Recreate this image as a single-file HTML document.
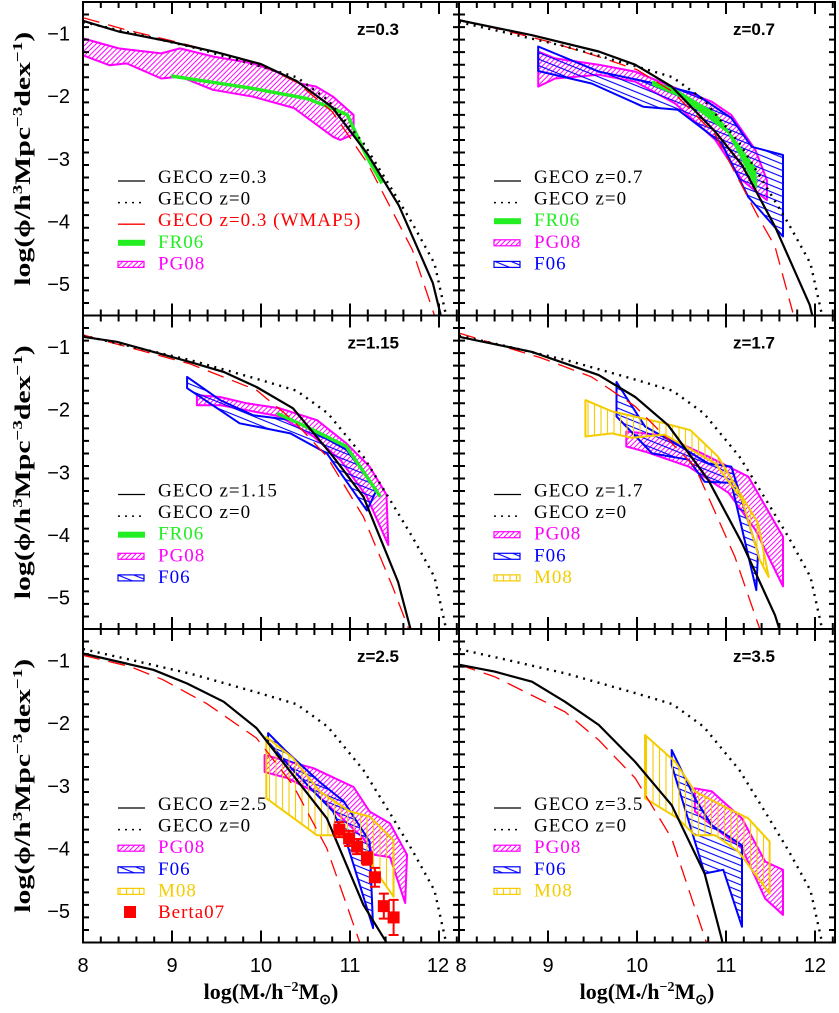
<!DOCTYPE html>
<html><head><meta charset="utf-8"><style>
html,body{margin:0;padding:0;background:#fff;}
svg{display:block;}
</style></head><body>
<svg id="chart" width="839" height="1013" viewBox="0 0 839 1013" xmlns="http://www.w3.org/2000/svg">
<defs>
<pattern id="hatch-pg08" patternUnits="userSpaceOnUse" width="3.6" height="3.6" patternTransform="rotate(-45)"><line x1="0" y1="1.8" x2="3.6" y2="1.8" stroke="#ff00ff" stroke-width="1"/></pattern>
<pattern id="hatch-f06" patternUnits="userSpaceOnUse" width="7" height="6" patternTransform="rotate(22)"><line x1="0" y1="3" x2="7" y2="3" stroke="#0000ff" stroke-width="1.1"/></pattern>
<pattern id="hatch-m08" patternUnits="userSpaceOnUse" width="6.5" height="6"><line x1="3" y1="0" x2="3" y2="6" stroke="#f5cc00" stroke-width="1.1"/></pattern>
</defs>
<g id="root"></g>
</svg>
<script>
// ---- shared data ----
const z0_curve = [[8,-0.82],[8.5,-0.98],[9.2,-1.21],[9.6,-1.37],[10,-1.53],[10.4,-1.70],[10.75,-2.06],[11.15,-2.75],[11.45,-3.44],[11.7,-4.03],[11.95,-4.67],[12.08,-5.5]];
// panel 1 z=0.3
const p1_geco = [[8,-0.80],[8.4,-0.97],[9,-1.14],[9.5,-1.30],[10,-1.49],[10.4,-1.76],[10.8,-2.18],[11.2,-2.93],[11.55,-3.75],[11.93,-4.98],[12.02,-5.5]];
const p1_wmap5 = [[8,-0.75],[8.5,-0.95],[9,-1.12],[9.5,-1.3],[10,-1.5],[10.4,-1.78],[10.8,-2.25],[11.2,-3.08],[11.7,-4.45],[11.95,-5.5]];
const p1_pg08_hi = [[8,-1.08],[8.4,-1.24],[8.88,-1.32],[9.09,-1.24],[9.46,-1.37],[9.91,-1.48],[10.17,-1.61],[10.44,-1.80],[10.62,-1.85],[10.81,-2.01],[11.04,-2.30]];
const p1_pg08_lo = [[8,-1.35],[8.3,-1.51],[8.49,-1.48],[8.88,-1.72],[9.09,-1.69],[9.46,-1.90],[9.91,-2.01],[10.37,-2.19],[10.81,-2.65],[10.89,-2.70],[11.04,-2.61]];
const p1_fr06 = [[8.99,-1.68],[9.46,-1.78],[9.91,-1.88],[10.52,-2.04],[10.81,-2.2],[10.97,-2.30],[11.19,-2.97],[11.36,-3.39]];
// panel 2 z=0.7
const p2_geco = [[8,-0.79],[8.82,-1.03],[9.57,-1.29],[9.98,-1.50],[10.39,-1.85],[10.88,-2.57],[11.18,-3.1],[11.55,-4.08],[11.94,-5.33],[11.97,-5.5]];
const p2_wmap5 = [[8,-0.78],[8.5,-0.95],[9,-1.13],[9.5,-1.34],[10,-1.58],[10.4,-1.93],[10.88,-2.62],[11.36,-3.92],[11.55,-4.40],[11.75,-5.45]];
const p2_pg08_hi = [[8.89,-1.29],[9.08,-1.40],[9.57,-1.50],[9.98,-1.61],[10.39,-1.85],[10.84,-2.09],[11.06,-2.30],[11.33,-2.86],[11.46,-3.34]];
const p2_pg08_lo = [[8.89,-1.85],[9.08,-1.72],[9.57,-1.66],[9.98,-1.77],[10.43,-2.12],[10.88,-2.70],[11.18,-3.34],[11.46,-3.66]];
const p2_f06_hi = [[8.89,-1.21],[9.57,-1.61],[10.2,-1.80],[10.65,-1.96],[11.06,-2.35],[11.29,-2.81],[11.64,-2.94]];
const p2_f06_lo = [[8.89,-1.60],[9.49,-1.80],[10.07,-2.17],[10.46,-2.22],[10.95,-2.75],[11.25,-3.61],[11.64,-4.24]];
const p2_fr06_hi = [[10.18,-1.77],[10.44,-1.91],[10.88,-2.28],[11.33,-3.16]];
const p2_fr06_lo = [[10.18,-1.82],[10.50,-2.01],[11.03,-2.59],[11.34,-3.45]];
// panel 3 z=1.15
const p3_geco = [[8,-0.84],[8.38,-0.92],[9.2,-1.24],[9.58,-1.40],[9.95,-1.64],[10.36,-1.98],[10.81,-2.75],[11.15,-3.39],[11.54,-4.75],[11.68,-5.5]];
const p3_wmap5 = [[8,-0.81],[9.2,-1.27],[9.95,-1.69],[10.36,-2.17],[10.74,-2.75],[11.15,-3.71],[11.48,-4.83],[11.66,-5.5]];
const p3_pg08_hi = [[9.28,-1.77],[9.54,-1.80],[9.84,-1.90],[10.21,-1.98],[10.63,-2.17],[10.96,-2.54],[11.22,-2.91],[11.41,-3.36]];
const p3_pg08_lo = [[9.28,-1.93],[9.54,-1.93],[9.84,-2.01],[10.21,-2.11],[10.59,-2.43],[10.89,-2.80],[11.19,-3.39],[11.43,-4.16]];
const p3_f06_hi = [[9.17,-1.48],[9.54,-1.85],[9.91,-2.09],[10.36,-2.17],[10.96,-2.64],[11.3,-3.28]];
const p3_f06_lo = [[9.17,-1.66],[9.54,-2.01],[9.76,-2.22],[10.33,-2.38],[10.74,-2.70],[11.19,-3.61]];
const p3_fr06 = [[10.18,-2.06],[10.59,-2.33],[10.96,-2.59],[11.34,-3.39]];
// panel 4 z=1.7
const p4_geco = [[8,-0.84],[8.82,-1.08],[9.57,-1.45],[9.98,-1.80],[10.35,-2.25],[10.80,-3.12],[11.18,-4.13],[11.55,-5.28],[11.6,-5.5]];
const p4_wmap5 = [[8,-0.78],[8.93,-1.18],[9.49,-1.48],[9.98,-1.95],[10.65,-2.91],[11.1,-4.35],[11.38,-5.5]];
const p4_pg08_hi = [[9.88,-2.35],[10.28,-2.41],[10.73,-2.70],[11.25,-3.07],[11.64,-4.03]];
const p4_pg08_lo = [[9.88,-2.59],[10.09,-2.67],[10.58,-2.91],[11.03,-3.33],[11.33,-3.92],[11.64,-4.82]];
const p4_f06_hi = [[9.77,-1.56],[10.09,-2.27],[10.43,-2.54],[10.8,-2.86],[11.06,-2.91],[11.36,-4.29]];
const p4_f06_lo = [[9.77,-2.11],[10.17,-2.70],[10.58,-2.80],[10.76,-3.15],[11.06,-3.17],[11.34,-4.88]];
const p4_m08_hi = [[9.42,-1.85],[9.72,-2.03],[10.31,-2.22],[10.6,-2.33],[10.91,-2.75],[11.36,-3.81],[11.48,-4.67]];
const p4_m08_lo = [[9.42,-2.43],[9.72,-2.38],[9.94,-2.45],[10.31,-2.40],[10.88,-2.86],[11.18,-3.44],[11.38,-4.40]];
// panel 5 z=2.5
const p5_geco = [[8,-0.89],[8.79,-1.15],[9.17,-1.37],[9.58,-1.66],[9.95,-2.08],[10.36,-2.83],[10.74,-3.52],[11.15,-4.90],[11.41,-5.5]];
const p5_wmap5 = [[8,-0.92],[8.53,-1.10],[8.9,-1.31],[9.39,-1.69],[9.95,-2.24],[10.36,-2.99],[10.74,-4.0],[11.11,-5.5]];
const p5_pg08_hi = [[10.04,-2.51],[10.59,-2.72],[11.04,-3.02],[11.22,-3.41],[11.45,-3.60],[11.64,-4.10]];
const p5_pg08_lo = [[10.04,-2.78],[10.3,-2.88],[10.59,-3.09],[11.15,-3.84],[11.27,-4.10],[11.45,-4.14],[11.62,-4.87]];
const p5_f06_hi = [[10.08,-2.16],[10.29,-2.46],[10.66,-2.94],[10.93,-3.25],[11.22,-3.89]];
const p5_f06_lo = [[10.08,-2.30],[10.36,-2.75],[10.81,-3.41],[10.96,-3.89],[11.26,-5.27]];
const p5_m08_hi = [[10.06,-2.22],[10.36,-2.56],[10.66,-3.09],[11.0,-3.41],[11.22,-3.49],[11.49,-3.87]];
const p5_m08_lo = [[10.06,-3.20],[10.63,-3.79],[10.89,-3.79],[11.19,-4.16],[11.49,-4.77]];
const berta_mass = [10.88,10.99,11.08,11.19,11.28,11.38,11.49];
const berta_phi = [-3.70,-3.84,-3.97,-4.16,-4.46,-4.92,-5.10];
const berta_err = [0.12,0.12,0.12,0.1,0.15,0.2,0.28];
// panel 6 z=3.5
const p6_geco = [[8,-1.07],[8.40,-1.18],[8.82,-1.34],[9.19,-1.66],[9.57,-2.03],[9.98,-2.62],[10.39,-3.31],[10.76,-4.40],[10.95,-5.43],[10.96,-5.5]];
const p6_wmap5 = [[8,-1.07],[8.4,-1.26],[9.19,-1.82],[9.57,-2.27],[9.98,-2.88],[10.39,-3.84],[10.78,-5.5]];
const p6_pg08_hi = [[10.65,-3.04],[10.84,-3.09],[11.18,-3.52],[11.44,-4.21],[11.64,-4.34]];
const p6_pg08_lo = [[10.65,-3.41],[10.88,-3.68],[11.18,-4.0],[11.44,-4.8],[11.64,-5.06]];
const p6_f06_hi = [[10.39,-2.43],[10.65,-3.20],[10.84,-3.63],[11.18,-3.95]];
const p6_f06_lo = [[10.39,-2.67],[10.76,-4.40],[10.97,-4.34],[11.18,-5.25]];
const p6_m08_hi = [[10.09,-2.19],[10.43,-2.62],[10.65,-3.09],[10.95,-3.31],[11.25,-3.52],[11.49,-3.89]];
const p6_m08_lo = [[10.09,-3.20],[10.46,-3.52],[10.65,-3.79],[10.88,-3.79],[11.14,-4.05],[11.49,-4.72]];

const xTicks = [8,9,10,11,12];
const yTicks = [-1,-2,-3,-4,-5];

// ---- layout ----
const NS = "http://www.w3.org/2000/svg";
const X0 = [83,459], Y0 = [2,315.5,629];
const PX = 89, PY = 62.7, PW = 376, PH = 313.5;
const root = document.getElementById('root');
function el(tag, attrs, parent){ const e=document.createElementNS(NS,tag); for(const k in attrs) e.setAttribute(k,attrs[k]); (parent||root).appendChild(e); return e; }
function sx(m,c){ return X0[c]+(m-8)*PX; }
function sy(v,r){ return Y0[r]+(-0.5-v)*PY; }
function pts(arr,c,r){ return arr.map(p=>sx(p[0],c).toFixed(1)+','+sy(p[1],r).toFixed(1)).join(' '); }

const GREEN='#22ee22', MAG='#ff00ff', BLUE='#0000ff', GOLD='#f5cc00', RED='#ff0000';

const panels = [
 {c:0,r:0,z:'z=0.3',geco:p1_geco,wmap:p1_wmap5,pg:[p1_pg08_hi,p1_pg08_lo],fr:p1_fr06,
  legend:[['solid','GECO z=0.3'],['dotted','GECO z=0'],['dashed','GECO z=0.3 (WMAP5)'],['fr06','FR06'],['pg08','PG08']]},
 {c:1,r:0,z:'z=0.7',geco:p2_geco,wmap:p2_wmap5,pg:[p2_pg08_hi,p2_pg08_lo],f06:[p2_f06_hi,p2_f06_lo],frBand:[p2_fr06_hi,p2_fr06_lo],
  legend:[['solid','GECO z=0.7'],['dotted','GECO z=0'],['fr06','FR06'],['pg08','PG08'],['f06','F06']]},
 {c:0,r:1,z:'z=1.15',geco:p3_geco,wmap:p3_wmap5,pg:[p3_pg08_hi,p3_pg08_lo],f06:[p3_f06_hi,p3_f06_lo],fr:p3_fr06,
  legend:[['solid','GECO z=1.15'],['dotted','GECO z=0'],['fr06','FR06'],['pg08','PG08'],['f06','F06']]},
 {c:1,r:1,z:'z=1.7',geco:p4_geco,wmap:p4_wmap5,pg:[p4_pg08_hi,p4_pg08_lo],f06:[p4_f06_hi,p4_f06_lo],m08:[p4_m08_hi,p4_m08_lo],
  legend:[['solid','GECO z=1.7'],['dotted','GECO z=0'],['pg08','PG08'],['f06','F06'],['m08','M08']]},
 {c:0,r:2,z:'z=2.5',geco:p5_geco,wmap:p5_wmap5,pg:[p5_pg08_hi,p5_pg08_lo],f06:[p5_f06_hi,p5_f06_lo],m08:[p5_m08_hi,p5_m08_lo],berta:true,
  legend:[['solid','GECO z=2.5'],['dotted','GECO z=0'],['pg08','PG08'],['f06','F06'],['m08','M08'],['berta','Berta07']]},
 {c:1,r:2,z:'z=3.5',geco:p6_geco,wmap:p6_wmap5,pg:[p6_pg08_hi,p6_pg08_lo],f06:[p6_f06_hi,p6_f06_lo],m08:[p6_m08_hi,p6_m08_lo],
  legend:[['solid','GECO z=3.5'],['dotted','GECO z=0'],['pg08','PG08'],['f06','F06'],['m08','M08']]}
];
const legendColor = {solid:'#000',dotted:'#000',dashed:RED,fr06:GREEN,pg08:MAG,f06:BLUE,m08:GOLD,berta:RED};

function band(g,pair,fill,stroke,c,r,name){
  const poly = pair[0].concat(pair[1].slice().reverse());
  const p = el('polygon',{points:pts(poly,c,r),fill:fill,stroke:stroke,'stroke-width':2,'stroke-linejoin':'round'},g);
  
  
}

panels.forEach((P,i)=>{
  const c=P.c, r=P.r, x0=X0[c], y0=Y0[r];
  const g = el('g',{});
  
  
  const cp = el('clipPath',{id:'clip'+i},g);
  el('rect',{x:x0,y:y0,width:PW,height:PH},cp);
  const d = el('g',{'clip-path':'url(#clip'+i+')'},g);
  band(d,P.pg,'url(#hatch-pg08)',MAG,c,r,'pg08-band');
  if(P.f06) band(d,P.f06,'url(#hatch-f06)',BLUE,c,r,'f06-band');
  if(P.m08) band(d,P.m08,'url(#hatch-m08)',GOLD,c,r,'m08-band');
  if(P.frBand) band(d,P.frBand,GREEN,GREEN,c,r,'fr06-band');
  if(P.fr){ const l=el('polyline',{points:pts(P.fr,c,r),fill:'none',stroke:GREEN,'stroke-width':3.5,'stroke-linejoin':'round'},d);
    
     }
  const w=el('polyline',{points:pts(P.wmap,c,r),fill:'none',stroke:RED,'stroke-width':1.3,'stroke-dasharray':'17,9'},d);
  
  
  const zl=el('polyline',{points:pts(z0_curve,c,r),fill:'none',stroke:'#000','stroke-width':2.4,'stroke-dasharray':'2,5.5'},d);
  
  
  const gl=el('polyline',{points:pts(P.geco,c,r),fill:'none',stroke:'#000','stroke-width':2.2,'stroke-linejoin':'round'},d);
  
  
  if(P.berta){
    berta_mass.forEach((m,k)=>{
      const X=sx(m,c), Yv=sy(berta_phi[k],r), Y1=sy(berta_phi[k]+berta_err[k],r), Y2=sy(berta_phi[k]-berta_err[k],r);
      const eb=el('path',{d:`M${X},${Y1}V${Y2}M${X-5},${Y1}H${X+5}M${X-5},${Y2}H${X+5}`,stroke:RED,'stroke-width':2,fill:'none'},d);
      
      
      const sq=el('rect',{x:X-6,y:Yv-6,width:12,height:12,fill:RED},d);
      
      
    });
  }
  // ticks
  let tp='';
  for(let k=0;k<=21;k++){ const m=8+k*0.2; const X=sx(m,c); const maj=Math.abs(m-Math.round(m))<1e-6; const L=maj?12:6;
    tp+=`M${X},${y0+PH}v${-L}M${X},${y0}v${L}`; }
  for(let k=0;k<=25;k++){ const v=-0.5-k*0.2; if(v<-5.5||v>-0.5) continue; const Y=sy(v,r); const maj=Math.abs(v-Math.round(v))<1e-6; const L=maj?12:6;
    tp+=`M${x0},${Y}h${L}M${x0+PW},${Y}h${-L}`; }
  const tk=el('path',{d:tp,stroke:'#000','stroke-width':2,fill:'none'},g);
  
  
  const fr=el('rect',{x:x0,y:y0,width:PW,height:PH,fill:'none',stroke:'#000','stroke-width':2},g);
  
  
  const zt=el('text',{x:x0+316,y:y0+33,'text-anchor':'end','font-family':'Liberation Sans, sans-serif','font-weight':'bold','font-size':17},g);
  zt.textContent=P.z;
  
  
  // legend
  P.legend.forEach((L,k)=>{
    const by=y0+180+k*21.6, lx=x0+35, col=legendColor[L[0]];
    const lg=el('g',{},g);
    
    
    const t=L[0];
    if(t==='solid') el('line',{x1:lx,y1:by-1,x2:lx+27,y2:by-1,stroke:'#000','stroke-width':1.3},lg);
    if(t==='dotted') el('line',{x1:lx,y1:by-1,x2:lx+27,y2:by-1,stroke:'#000','stroke-width':1.5,'stroke-dasharray':'2,5'},lg);
    if(t==='dashed') el('line',{x1:lx,y1:by-1,x2:lx+27,y2:by-1,stroke:RED,'stroke-width':1.3},lg);
    if(t==='fr06') el('rect',{x:lx,y:by-7,width:27,height:6,fill:GREEN},lg);
    if(t==='pg08') el('rect',{x:lx,y:by-7,width:26,height:6,fill:'url(#hatch-pg08)',stroke:MAG,'stroke-width':1.2},lg);
    if(t==='f06') el('rect',{x:lx,y:by-7,width:26,height:6,fill:'url(#hatch-f06)',stroke:BLUE,'stroke-width':1.2},lg);
    if(t==='m08') el('rect',{x:lx,y:by-7,width:26,height:6,fill:'url(#hatch-m08)',stroke:GOLD,'stroke-width':1.2},lg);
    if(t==='berta') el('rect',{x:lx+6,y:by-11,width:12,height:12,fill:RED},lg);
    const tx=el('text',{x:lx+40,y:by+1,'font-family':'Liberation Serif, serif','font-size':19,'letter-spacing':1,fill:(t==='solid'||t==='dotted')?'#000':col},lg);
    tx.textContent=L[1];
  });
  // tick labels
  if(c===0){
    yTicks.forEach(v=>{
      const t=el('text',{x:70,y:sy(v,r)+7,'text-anchor':'end','font-family':'Liberation Sans, sans-serif','font-size':20},g);
      t.textContent='\u2212'+Math.abs(v);
      
      
    });
    const yt=el('text',{transform:`translate(30,${y0+PH/2}) rotate(-90)`,'text-anchor':'middle','font-family':'Liberation Serif, serif','font-size':22,'font-weight':'bold','textLength':254,'lengthAdjust':'spacingAndGlyphs'},g);
    yt.innerHTML='log(\u03d5/h<tspan dy="-8" font-size="14">3</tspan><tspan dy="8">Mpc</tspan><tspan dy="-8" font-size="14">\u22123</tspan><tspan dy="8">dex</tspan><tspan dy="-8" font-size="14">\u22121</tspan><tspan dy="8">)</tspan>';
    
    
  }
  if(r===2){
    xTicks.forEach(m=>{
      let X=sx(m,c);
      if(c===0&&m===12) X-=1; if(c===1&&m===8) X+=2;
      const t=el('text',{x:X,y:972,'text-anchor':'middle','font-family':'Liberation Sans, sans-serif','font-size':20},g);
      t.textContent=String(m);
      
      
    });
    const xt=el('text',{x:x0+PW/2,y:999,'text-anchor':'middle','font-family':'Liberation Serif, serif','font-size':22,'font-weight':'bold'},g);
    xt.innerHTML='log(M<tspan font-size="15" dy="1">\u2022</tspan><tspan dy="-1">/h</tspan><tspan dy="-8" font-size="14">\u22122</tspan><tspan dy="8">M</tspan><tspan dy="5" font-size="14">\u2299</tspan><tspan dy="-5">)</tspan>';
    
    
  }
});
</script>
</body></html>
